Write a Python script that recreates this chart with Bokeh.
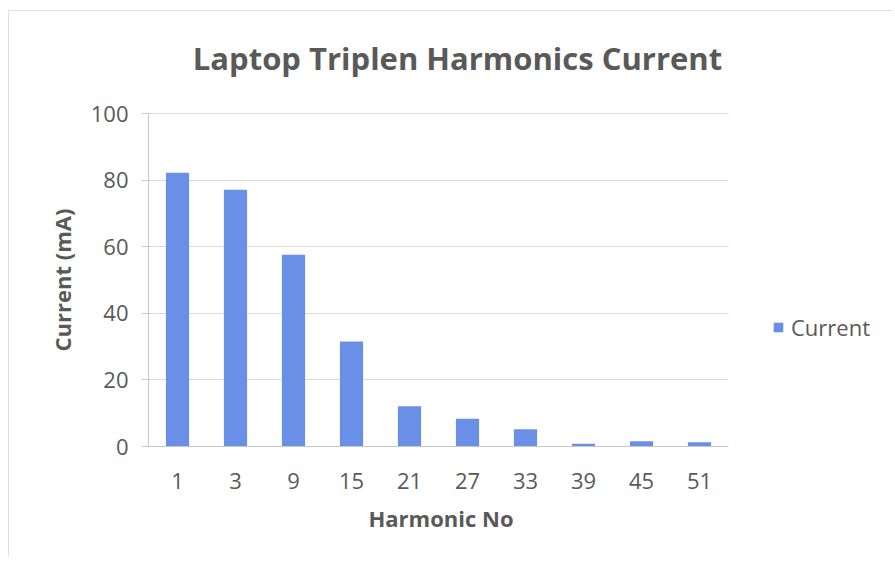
from bokeh.plotting import figure
from bokeh.models import (ColumnDataSource, Range1d, FixedTicker, Label, Title,
                          Legend, LegendItem)
from bokeh.embed import file_html
from bokeh.resources import INLINE

harmonics = ["1", "3", "9", "15", "21", "27", "33", "39", "45", "51"]
current = [82.2, 77.1, 57.6, 31.5, 12.1, 8.3, 5.2, 0.8, 1.6, 1.3]
series_name = "Current"
y_ticks = [0, 20, 40, 60, 80, 100]
chart_title = "Laptop Triplen Harmonics Current"
x_title = "Harmonic No"
y_title = "Current (mA)"

TEXT = "#595959"
BAR = "#6a8fe6"
FONT = "Open Sans"

# layout (pixels); the frame spans the whole chart area so that the title and the
# legend can be drawn inside it, while axis/grid are bounded to the plot area
W, H = 884, 546
LEFT, TOP, RIGHT, BOTTOM = 139, 0, 5, 111
PLOT_W, PLOT_H = 580, 333          # size of the plot area in the original
frame_w = W - LEFT - RIGHT
frame_h = H - TOP - BOTTOM
n = len(harmonics)
y_max = max(y_ticks)
x_end = n * frame_w / PLOT_W
y_end = y_max * frame_h / PLOT_H

pos = [i + 0.5 for i in range(n)]

p = figure(width=W, height=H, output_backend="svg", toolbar_location=None,
           x_range=Range1d(0, x_end), y_range=Range1d(0, y_end),
           min_border_left=LEFT, min_border_top=TOP,
           min_border_right=RIGHT, min_border_bottom=BOTTOM)
p.background_fill_color = "white"
p.border_fill_color = "white"
p.outline_line_color = None
p.styles = {"margin-left": "8px", "margin-top": "10px",
            "border-left": "1px solid #e0e0e0", "border-top": "1px solid #e0e0e0"}

src = ColumnDataSource(dict(x=pos, y=current))
r = p.vbar(x="x", top="y", width=0.4, source=src, fill_color=BAR, line_color=None)

p.xgrid.grid_line_color = None
p.ygrid.ticker = FixedTicker(ticks=y_ticks)
p.ygrid.grid_line_color = "#d9d9d9"
p.ygrid.grid_line_width = 1
p.ygrid.cross_bounds = (0, n)

p.yaxis.ticker = FixedTicker(ticks=y_ticks)
p.yaxis.bounds = (0, y_max)
p.yaxis.axis_line_color = "#c8c8c8"
p.yaxis.major_tick_line_color = "#c8c8c8"
p.yaxis.major_tick_out = 7
p.yaxis.major_tick_in = 0
p.yaxis.minor_tick_line_color = None
p.yaxis.major_label_text_font = FONT
p.yaxis.major_label_text_font_size = "22px"
p.yaxis.major_label_text_color = TEXT
p.yaxis.major_label_standoff = 13

p.xaxis.ticker = FixedTicker(ticks=pos)
p.xaxis.major_label_overrides = {x: lab for x, lab in zip(pos, harmonics)}
p.xaxis.bounds = (0, n)
p.xaxis.axis_line_color = "#c8c8c8"
p.xaxis.major_tick_line_color = None
p.xaxis.minor_tick_line_color = None
p.xaxis.major_label_text_font = FONT
p.xaxis.major_label_text_font_size = "22px"
p.xaxis.major_label_text_color = TEXT
p.xaxis.major_label_standoff = 20

# axis titles as side titles, placed along the bounded plot area
p.add_layout(Title(text=y_title, align="left", offset=95, text_font=FONT,
                   text_font_size="22px", text_font_style="bold", text_color=TEXT,
                   standoff=22), "left")
p.add_layout(Title(text=x_title, align="left", offset=220, vertical_align="top",
                   text_font=FONT, text_font_size="22px", text_font_style="bold",
                   text_color=TEXT, standoff=22), "below")

# chart title, centred over the chart area
p.add_layout(Label(x=309, y=389, x_units="screen", y_units="screen", text=chart_title,
                   text_align="center", text_baseline="middle", text_font=FONT,
                   text_font_size="31px", text_font_style="bold", text_color=TEXT))

legend = Legend(items=[LegendItem(label=series_name, renderers=[r])],
                location=(624, 104), padding=0, margin=0, border_line_color=None,
                background_fill_alpha=0, glyph_width=12, glyph_height=12,
                label_text_font=FONT, label_text_font_size="22px",
                label_text_color=TEXT, label_standoff=7)
p.add_layout(legend)

open("out.html", "w").write(file_html(p, INLINE))
